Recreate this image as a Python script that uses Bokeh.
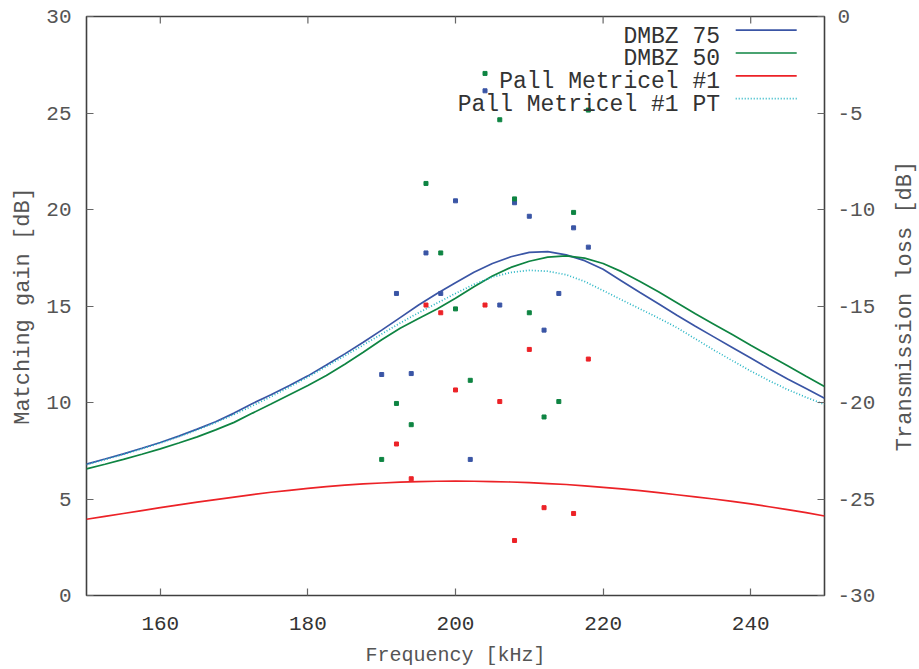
import math
from bokeh.plotting import figure
from bokeh.models import Range1d, LinearAxis, FixedTicker, Label, Arrow
from bokeh.layouts import row
from bokeh.embed import file_html
from bokeh.resources import INLINE

# ---------------- data ----------------
curve_freq = [150, 152.5, 155, 157.5, 160, 162.5, 165, 167.5, 170, 172.5, 175, 177.5, 180,
              182.5, 185, 187.5, 190, 192.5, 195, 197.5, 200, 202.5, 205, 207.5, 210, 212.5,
              215, 217.5, 220, 222.5, 225, 227.5, 230, 232.5, 235, 237.5, 240, 242.5, 245,
              247.5, 250]
# transmission loss curves [dB] (right axis)
dmbz75_tl = [-23.19, -22.93, -22.66, -22.37, -22.07, -21.74, -21.38, -21.0, -20.55, -20.05,
             -19.6, -19.12, -18.62, -18.06, -17.48, -16.88, -16.25, -15.6, -14.95, -14.35,
             -13.8, -13.25, -12.8, -12.45, -12.22, -12.18, -12.35, -12.65, -13.1, -13.7,
             -14.3, -14.88, -15.48, -16.05, -16.6, -17.15, -17.7, -18.25, -18.78, -19.28, -19.78]
dmbz50_tl = [-23.44, -23.2, -22.95, -22.68, -22.4, -22.1, -21.78, -21.42, -21.03, -20.55,
             -20.08, -19.6, -19.12, -18.6, -18.02, -17.4, -16.75, -16.15, -15.65, -15.15,
             -14.6, -14.0, -13.45, -13.0, -12.68, -12.47, -12.4, -12.52, -12.8, -13.22,
             -13.73, -14.26, -14.83, -15.4, -15.94, -16.48, -17.03, -17.57, -18.1, -18.64, -19.17]
pall_tl = [-26.05, -25.9, -25.75, -25.6, -25.45, -25.3, -25.16, -25.03, -24.9, -24.77,
           -24.65, -24.55, -24.45, -24.36, -24.28, -24.22, -24.17, -24.13, -24.1, -24.08,
           -24.07, -24.08, -24.1, -24.12, -24.15, -24.2, -24.25, -24.32, -24.4, -24.48,
           -24.57, -24.67, -24.78, -24.89, -25.0, -25.12, -25.25, -25.4, -25.55, -25.71, -25.88]
pall_pt_tl = [-23.22, -22.96, -22.69, -22.4, -22.1, -21.77, -21.42, -21.04, -20.62, -20.17,
              -19.7, -19.2, -18.68, -18.14, -17.58, -17.02, -16.45, -15.88, -15.35, -14.85,
              -14.35, -13.88, -13.5, -13.26, -13.15, -13.2, -13.38, -13.73, -14.2, -14.68,
              -15.15, -15.62, -16.12, -16.7, -17.28, -17.83, -18.37, -18.87, -19.33, -19.73, -20.1]

# matching gain points [dB] (left axis)
dmbz_freq = [190, 192, 194, 196, 198, 200, 202, 204, 206, 208, 210, 212, 214, 216, 218]
dmbz75_gain = [11.45, 15.65, 11.5, 17.75, 15.65, 20.45, 7.05, 26.15, 15.05, 20.35, 19.65, 13.75, 15.65, 19.05, 18.05]
dmbz50_gain = [7.05, 9.95, 8.85, 21.35, 17.75, 14.85, 11.15, 27.05, 24.65, 20.55, 14.65, 9.25, 10.05, 19.85, 25.15]
pall_freq = [192, 194, 196, 198, 200, 204, 206, 208, 210, 212, 216, 218]
pall_gain = [7.85, 6.05, 15.05, 14.65, 10.65, 15.05, 10.05, 2.85, 12.75, 4.55, 4.25, 12.25]

x_ticks = [160, 180, 200, 220, 240]
gain_ticks = [0, 5, 10, 15, 20, 25, 30]
tl_ticks = [-30, -25, -20, -15, -10, -5, 0]

series_names = ["DMBZ 75", "DMBZ 50", "Pall Metricel #1", "Pall Metricel #1 PT"]
series_colors = ["#3a55a5", "#0e8442", "#ec2227", "#26b5c4"]
series_dash = ["solid", "solid", "solid", "1 2"]

FONT = "Liberation Mono"

W, H = 889, 669
p = figure(width=W, height=H, output_backend="svg", toolbar_location=None,
           x_range=Range1d(150, 250), y_range=Range1d(0, 30),
           min_border_left=86, min_border_right=65, min_border_top=16, min_border_bottom=72)
p.extra_y_ranges = {"tl": Range1d(-30, 0)}
p.grid.visible = False
p.background_fill_color = "white"
p.border_fill_color = "white"
p.outline_line_color = "#404040"
p.outline_line_width = 1.6

def style_axis(ax, color):
    ax.major_tick_in = 7
    ax.major_tick_out = 0
    ax.minor_tick_in = 0
    ax.minor_tick_out = 0
    ax.major_tick_line_color = "#666666"
    ax.major_tick_line_width = 1.2
    ax.axis_line_color = None
    ax.major_label_text_font = FONT
    ax.major_label_text_font_size = "21px"
    ax.major_label_text_color = color
    ax.axis_label_text_font = FONT
    ax.axis_label_text_font_size = "22px"
    ax.axis_label_text_font_style = "normal"
    ax.axis_label_text_color = "#555555"

xa = p.xaxis[0]
xa.ticker = FixedTicker(ticks=x_ticks)
xa.axis_label = "Frequency [kHz]"
style_axis(xa, "#333333")
xa.axis_label_text_font_size = "20px"
xa.major_label_standoff = 21
xa.axis_label_standoff = 11

ya = p.yaxis[0]
ya.ticker = FixedTicker(ticks=gain_ticks)
ya.axis_label = "Matching gain [dB]"
style_axis(ya, "#555555")
ya.major_label_standoff = 15
ya.axis_label_standoff = 7

ra = LinearAxis(y_range_name="tl", ticker=FixedTicker(ticks=tl_ticks))
ra.major_label_overrides = {t: str(t) for t in tl_ticks}
style_axis(ra, "#555555")
ra.major_label_standoff = 13
p.add_layout(ra, "right")

# mirrored x ticks on the top border
p.scatter(x_ticks, [30] * len(x_ticks), marker="dash", angle=math.pi / 2, size=14,
          line_color="#666666", line_width=1.2)

# curves
curves = [dmbz75_tl, dmbz50_tl, pall_tl, pall_pt_tl]
for vals, col, dash in zip(curves, series_colors, series_dash):
    p.line(curve_freq, vals, y_range_name="tl", line_color=col, line_width=1.7, line_dash=dash)

# points
p.scatter(dmbz_freq, dmbz75_gain, marker="square", size=4, fill_color=series_colors[0], line_color=series_colors[0])
p.scatter(dmbz_freq, dmbz50_gain, marker="square", size=4, fill_color=series_colors[1], line_color=series_colors[1])
p.scatter(pall_freq, pall_gain, marker="square", size=4, fill_color=series_colors[2], line_color=series_colors[2])

# legend (text right-aligned, sample line on the right); screen units relative to frame
row_y0 = 559.0
line_y0 = 565.3
row_step = 22.8
text_right = 633.5
line_x0, line_x1 = 649.2, 710.2
for i, (name, col, dash) in enumerate(zip(series_names, series_colors, series_dash)):
    p.add_layout(Label(x=text_right, y=row_y0 - i * row_step, x_units="screen", y_units="screen",
                       text=name, text_align="right", text_baseline="middle", text_font=FONT,
                       text_font_size="23px", text_color="#333333"))
    ly = line_y0 - i * row_step
    p.add_layout(Arrow(x_start=line_x0, y_start=ly, x_end=line_x1, y_end=ly,
                       start_units="screen", end_units="screen", end=None, start=None,
                       line_color=col, line_width=1.7, line_dash=dash))

# narrow companion panel that carries the right-hand axis title (reading upwards)
p2 = figure(width=919 - W, height=H, output_backend="svg", toolbar_location=None,
            x_range=Range1d(0, 1), y_range=Range1d(-30, 0),
            min_border_left=28, min_border_right=0, min_border_top=16, min_border_bottom=72)
p2.grid.visible = False
p2.xaxis.visible = False
p2.outline_line_color = None
p2.background_fill_color = "white"
p2.border_fill_color = "white"
ya2 = p2.yaxis[0]
ya2.ticker = FixedTicker(ticks=[])
ya2.axis_line_color = None
ya2.major_tick_in = 0
ya2.major_tick_out = 0
ya2.minor_tick_in = 0
ya2.minor_tick_out = 0
ya2.major_label_standoff = 0
ya2.axis_label = "Transmission loss [dB]"
ya2.axis_label_standoff = 0
ya2.axis_label_text_font = FONT
ya2.axis_label_text_font_size = "22px"
ya2.axis_label_text_font_style = "normal"
ya2.axis_label_text_color = "#555555"

layout = row(p, p2)
open("out.html", "w").write(file_html(layout, INLINE))
